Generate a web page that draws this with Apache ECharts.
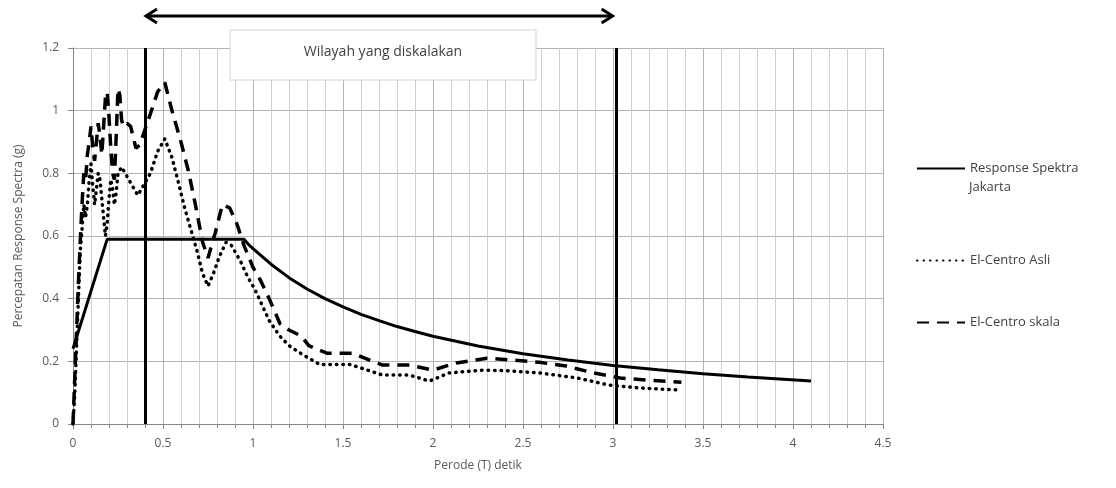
<!DOCTYPE html>
<html>
<head>
<meta charset="utf-8">
<script src="https://cdn.jsdelivr.net/npm/echarts@6/dist/echarts.min.js"></script>
<style>
  html, body { margin: 0; padding: 0; background: #fff; }
  #chart { width: 1116px; height: 488px; }
</style>
</head>
<body>
<div id="chart"></div>
<script>
// Response Spektra Jakarta (solid)
var spektraJakarta = [
  [0, 0.24], [0.19, 0.59], [0.95, 0.59], [0.98, 0.57], [1.0, 0.56], [1.05, 0.535],
  [1.1, 0.51], [1.2, 0.467], [1.3, 0.431], [1.4, 0.40], [1.5, 0.374], [1.6, 0.35],
  [1.7, 0.33], [1.8, 0.311], [1.9, 0.295], [2.0, 0.28], [2.25, 0.249], [2.5, 0.224],
  [2.75, 0.204], [3.0, 0.187], [3.25, 0.173], [3.5, 0.16], [3.75, 0.15], [4.1, 0.137]
];
// El-Centro Asli (dotted)
var elCentroAsli = [
  [0, 0.0], [0.01, 0.1], [0.02, 0.25], [0.03, 0.4], [0.04, 0.55], [0.05, 0.62],
  [0.06, 0.7], [0.07, 0.66], [0.08, 0.7], [0.09, 0.78], [0.1, 0.83], [0.11, 0.76],
  [0.12, 0.7], [0.13, 0.75], [0.14, 0.8], [0.15, 0.78], [0.16, 0.72], [0.17, 0.66],
  [0.18, 0.6], [0.19, 0.64], [0.2, 0.72], [0.21, 0.78], [0.22, 0.75], [0.23, 0.7],
  [0.24, 0.74], [0.25, 0.8], [0.27, 0.82], [0.3, 0.79], [0.33, 0.76], [0.36, 0.73],
  [0.4, 0.77], [0.43, 0.8], [0.47, 0.87], [0.51, 0.91], [0.55, 0.85], [0.59, 0.76],
  [0.62, 0.69], [0.66, 0.61], [0.69, 0.55], [0.72, 0.48], [0.75, 0.44], [0.78, 0.48],
  [0.81, 0.53], [0.85, 0.58], [0.88, 0.57], [0.93, 0.52], [0.97, 0.47], [1.01, 0.43],
  [1.05, 0.38], [1.09, 0.33], [1.15, 0.28], [1.2, 0.25], [1.28, 0.22], [1.37, 0.19],
  [1.54, 0.19], [1.72, 0.156], [1.87, 0.156], [1.98, 0.137], [2.09, 0.163],
  [2.28, 0.172], [2.41, 0.17], [2.59, 0.163], [2.8, 0.147], [2.98, 0.124],
  [3.15, 0.115], [3.38, 0.108]
];
// El-Centro skala (dashed)
var elCentroSkala = [
  [0, 0.0], [0.01, 0.15], [0.02, 0.3], [0.03, 0.45], [0.04, 0.58], [0.05, 0.7],
  [0.06, 0.8], [0.07, 0.78], [0.08, 0.86], [0.09, 0.9], [0.1, 0.95], [0.11, 0.88],
  [0.12, 0.84], [0.13, 0.9], [0.14, 0.96], [0.15, 0.92], [0.16, 0.86], [0.17, 0.95],
  [0.18, 1.04], [0.19, 1.06], [0.2, 0.98], [0.21, 0.88], [0.22, 0.8], [0.23, 0.78],
  [0.24, 0.92], [0.25, 1.07], [0.26, 1.05], [0.27, 0.97], [0.28, 0.95], [0.3, 0.96],
  [0.32, 0.95], [0.35, 0.88], [0.37, 0.89], [0.4, 0.94], [0.43, 0.99], [0.47, 1.06],
  [0.51, 1.09], [0.55, 1.0], [0.6, 0.9], [0.64, 0.81], [0.68, 0.7], [0.72, 0.58],
  [0.75, 0.53], [0.79, 0.61], [0.83, 0.7], [0.87, 0.69], [0.91, 0.64], [0.95, 0.57],
  [1.0, 0.5], [1.04, 0.46], [1.09, 0.4], [1.15, 0.32], [1.2, 0.3], [1.27, 0.28],
  [1.31, 0.25], [1.41, 0.226], [1.55, 0.226], [1.72, 0.188], [1.87, 0.188],
  [2.0, 0.172], [2.13, 0.195], [2.3, 0.21], [2.44, 0.204], [2.59, 0.197],
  [2.74, 0.185], [2.89, 0.163], [3.04, 0.147], [3.19, 0.14], [3.38, 0.133]
];
// batas wilayah yang diskalakan
var scaledRange = [0.4, 3.02];
var rangeLabel = "Wilayah yang diskalakan";

var font = "Open Sans";
var txtColor = "#595959";

var chart = echarts.init(document.getElementById("chart"));

var legendBase = {
  orient: "vertical",
  left: 911,
  itemWidth: 48,
  itemHeight: 14,
  itemGap: 4,
  itemStyle: { opacity: 0 }, // sembunyikan simbol bulat, garis saja
  textStyle: { fontFamily: font, fontSize: 13, color: "#404040" }
};

var option = {
  animation: false,
  backgroundColor: "#fff",
  grid: { left: 73, right: 233, top: 48, bottom: 64 },
  xAxis: {
    type: "value",
    min: 0,
    max: 4.5,
    interval: 0.5,
    name: "Perode (T) detik",
    nameLocation: "middle",
    nameGap: 36,
    nameTextStyle: { fontFamily: font, fontSize: 12, color: txtColor },
    axisLine: { lineStyle: { color: "#868686" } },
    axisTick: { show: true, length: 5, lineStyle: { color: "#868686" } },
    minorTick: { show: true, splitNumber: 5, length: 4, lineStyle: { color: "#868686" } },
    axisLabel: { fontFamily: font, fontSize: 12, color: txtColor, margin: 14 },
    splitLine: { show: true, lineStyle: { color: "#b4b4b4" } },
    minorSplitLine: { show: true, lineStyle: { color: "#cfcfcf" } }
  },
  yAxis: {
    type: "value",
    min: 0,
    max: 1.2,
    interval: 0.2,
    name: "Percepatan Response Spectra (g)",
    nameLocation: "middle",
    nameGap: 48,
    nameTextStyle: { fontFamily: font, fontSize: 12, color: txtColor },
    axisLine: { show: true, lineStyle: { color: "#868686" } },
    axisTick: { show: true, length: 5, lineStyle: { color: "#868686" } },
    axisLabel: { fontFamily: font, fontSize: 12, color: txtColor, margin: 14 },
    splitLine: { show: true, lineStyle: { color: "#b4b4b4" } }
  },
  legend: [
    Object.assign({}, legendBase, {
      data: ["Response Spektra Jakarta"],
      top: 157,
      // baris kedua ditulis terpisah di bawah
      formatter: function() { return "Response Spektra"; }
    }),
    Object.assign({}, legendBase, { data: ["El-Centro Asli"], top: 249 }),
    Object.assign({}, legendBase, { data: ["El-Centro skala"], top: 311 })
  ],
  series: [
    {
      name: "Response Spektra Jakarta",
      type: "line",
      data: spektraJakarta,
      symbol: "none",
      lineStyle: { color: "#000", width: 3 },
      itemStyle: { color: "#000" },
      z: 4,
      markLine: {
        silent: true,
        symbol: "none",
        label: { show: false },
        lineStyle: { color: "#000", width: 3, type: "solid" },
        data: scaledRange.map(function(v) {
          return [{ coord: [v, 0] }, { coord: [v, 1.2] }];
        })
      }
    },
    {
      name: "El-Centro Asli",
      type: "line",
      data: elCentroAsli,
      symbol: "none",
      lineStyle: { color: "#000", width: 3.5, type: [0.5, 6], cap: "round" },
      itemStyle: { color: "#000" },
      z: 3
    },
    {
      name: "El-Centro skala",
      type: "line",
      data: elCentroSkala,
      symbol: "none",
      lineStyle: { color: "#000", width: 3.5, type: [12, 8] },
      itemStyle: { color: "#000" },
      z: 3
    }
  ]
};
chart.setOption(option);

// panah dan kotak judul wilayah, posisinya ikut sumbu x
var xa = chart.convertToPixel({ xAxisIndex: 0 }, scaledRange[0]);
var xb = chart.convertToPixel({ xAxisIndex: 0 }, scaledRange[1]);
var ay = 16;
chart.setOption({
  graphic: [
    {
      type: "line",
      shape: { x1: xa + 2, y1: ay, x2: xb - 4, y2: ay },
      style: { stroke: "#000", lineWidth: 3 },
      z: 10
    },
    {
      type: "polyline",
      shape: { points: [[xa + 12, ay - 7], [xa + 1, ay], [xa + 12, ay + 7]] },
      style: { stroke: "#000", lineWidth: 3, fill: null },
      z: 10
    },
    {
      type: "polyline",
      shape: { points: [[xb - 15, ay - 7], [xb - 4, ay], [xb - 15, ay + 7]] },
      style: { stroke: "#000", lineWidth: 3, fill: null },
      z: 10
    },
    {
      type: "rect",
      shape: { x: 230, y: 30, width: 306, height: 50 },
      style: { fill: "#fff", stroke: "#d4d4d4", lineWidth: 1 },
      z: 10
    },
    {
      type: "text",
      x: 383,
      y: 52,
      style: {
        text: rangeLabel,
        fontFamily: font,
        fontSize: 14,
        fill: "#404040",
        align: "center",
        verticalAlign: "middle"
      },
      z: 11
    },
    {
      type: "text",
      x: 969,
      y: 187,
      style: {
        text: "Jakarta",
        fontFamily: font,
        fontSize: 13,
        fill: "#404040",
        verticalAlign: "middle"
      },
      z: 11
    }
  ]
});
</script>
</body>
</html>
